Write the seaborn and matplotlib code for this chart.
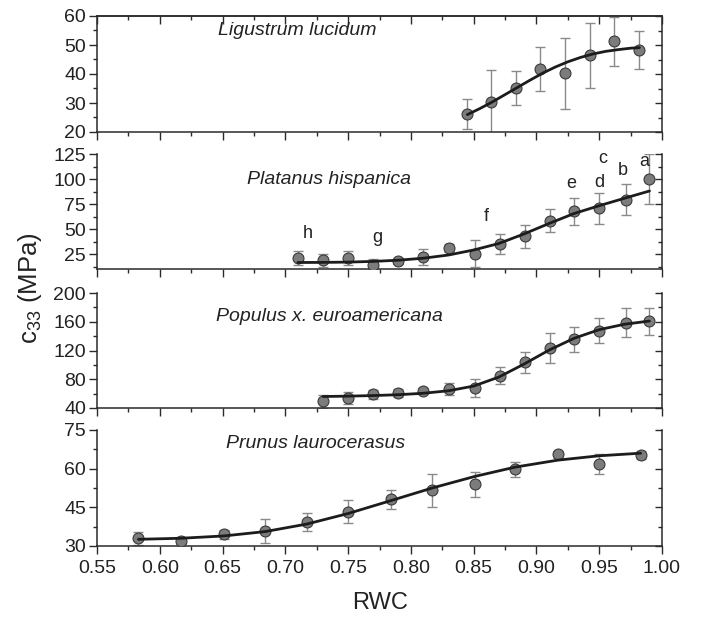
import numpy as np
import pandas as pd
import matplotlib
matplotlib.use("Agg")
import matplotlib.pyplot as plt
import seaborn as sns
from matplotlib.ticker import MultipleLocator, FormatStrFormatter

# ---------------- data ----------------
lig_x = [0.845, 0.864, 0.884, 0.903, 0.923, 0.943, 0.962, 0.982]
lig_y = [26.1, 30.3, 35.2, 41.7, 40.2, 46.5, 51.3, 48.2]
lig_err = [5.2, 11.0, 6.0, 7.7, 12.2, 11.2, 8.5, 6.5]
lig_fit_x = [0.845, 0.855, 0.865, 0.875, 0.885, 0.895, 0.905, 0.915, 0.925,
             0.935, 0.945, 0.955, 0.965, 0.975, 0.982]
lig_fit_y = [26.0, 28.1, 30.4, 32.9, 35.4, 37.9, 40.3, 42.4, 44.2,
             45.7, 46.9, 47.8, 48.4, 48.9, 49.1]

pla_x = [0.710, 0.730, 0.750, 0.770, 0.790, 0.810, 0.830, 0.851, 0.871,
         0.891, 0.911, 0.930, 0.950, 0.971, 0.990]
pla_y = [21.0, 18.7, 21.0, 14.3, 17.7, 22.0, 31.0, 25.3, 35.0,
         42.7, 58.3, 67.7, 70.7, 79.3, 100.3]
pla_err = [6.7, 6.7, 7.0, 5.5, 3.0, 7.7, 4.0, 13.7, 10.3,
           11.8, 11.5, 13.8, 15.3, 15.3, 25.0]
pla_fit_x = [0.71, 0.73, 0.75, 0.77, 0.79, 0.81, 0.83, 0.85, 0.87,
             0.89, 0.91, 0.93, 0.95, 0.97, 0.99]
pla_fit_y = [16.5, 16.6, 16.9, 17.6, 18.8, 20.8, 24.0, 29.0, 35.5,
             45.0, 55.5, 65.5, 73.3, 80.7, 88.0]
pla_letters = ["h", "g", "f", "e", "d", "c", "b", "a"]
pla_letter_x = [0.718, 0.773, 0.860, 0.928, 0.950, 0.953, 0.969, 0.986]
pla_letter_y = [46.0, 42.0, 63.0, 95.7, 97.0, 121.0, 108.7, 117.7]

pop_x = [0.730, 0.750, 0.770, 0.790, 0.810, 0.830, 0.851, 0.871, 0.891,
         0.911, 0.930, 0.950, 0.971, 0.990]
pop_y = [49.3, 53.9, 59.0, 60.9, 63.2, 66.4, 67.8, 85.0, 103.5,
         123.5, 135.5, 147.6, 158.7, 160.6]
pop_err = [9.0, 8.0, 6.0, 5.0, 4.0, 8.0, 12.5, 12.0, 15.0,
           21.0, 17.0, 17.0, 20.0, 19.0]
pop_fit_x = [0.73, 0.75, 0.77, 0.79, 0.81, 0.83, 0.85, 0.87, 0.89,
             0.91, 0.93, 0.95, 0.97, 0.99]
pop_fit_y = [56.0, 56.5, 57.3, 58.5, 60.5, 64.0, 70.5, 83.0, 101.0,
             120.5, 137.0, 149.0, 156.5, 161.0]

pru_x = [0.583, 0.617, 0.651, 0.684, 0.717, 0.750, 0.784, 0.817, 0.851,
         0.883, 0.917, 0.950, 0.983]
pru_y = [33.0, 32.1, 34.6, 35.9, 39.4, 43.3, 48.1, 51.6, 53.9,
         59.7, 65.5, 61.9, 65.4]
pru_err = [2.6, 1.5, 1.8, 4.6, 3.4, 4.5, 3.7, 6.3, 4.7, 3.0, 1.2, 3.9, 1.5]
pru_fit_x = [0.583, 0.617, 0.651, 0.684, 0.717, 0.750, 0.784, 0.817, 0.851,
             0.883, 0.917, 0.950, 0.983]
pru_fit_y = [32.6, 33.0, 33.9, 35.6, 38.5, 42.6, 47.6, 52.5, 57.0,
             60.6, 63.3, 65.0, 66.0]

species = ["Ligustrum lucidum", "Platanus hispanica",
           "Populus x. euroamericana", "Prunus laurocerasus"]

# ---------------- style ----------------
sns.set_theme(style="ticks")
plt.rcParams['font.family'] = ['Liberation Sans', 'DejaVu Sans']
plt.rcParams['mathtext.fontset'] = 'custom'
plt.rcParams['mathtext.rm'] = 'Liberation Sans'
plt.rcParams['mathtext.it'] = 'Liberation Sans:italic'

TXT = '#222222'
SP = '#2a2a2a'

fig = plt.figure(figsize=(7.02, 6.17), dpi=100)
W, H = 702.0, 617.0
left_px, right_px = 97, 662
panel_px = [(16, 132), (154, 269), (293, 408), (430, 546)]

panels = [
    dict(x=lig_x, y=lig_y, e=lig_err, fx=lig_fit_x, fy=lig_fit_y,
         ylim=(20, 60), maj=10, mnr=5, tx=0.2136, ty=0.873),
    dict(x=pla_x, y=pla_y, e=pla_err, fx=pla_fit_x, fy=pla_fit_y,
         ylim=(10, 125), maj=25, mnr=12.5, tx=0.265, ty=0.774),
    dict(x=pop_x, y=pop_y, e=pop_err, fx=pop_fit_x, fy=pop_fit_y,
         ylim=(40, 200), maj=40, mnr=20, tx=0.211, ty=0.794),
    dict(x=pru_x, y=pru_y, e=pru_err, fx=pru_fit_x, fy=pru_fit_y,
         ylim=(30, 75), maj=15, mnr=7.5, tx=0.229, ty=0.885),
]

for i, (p, (t, b)) in enumerate(zip(panels, panel_px)):
    ax = fig.add_axes([left_px / W, 1 - b / H, (right_px - left_px) / W, (b - t) / H])
    df = pd.DataFrame({"RWC": p["x"], "c33": p["y"], "err": p["e"]})
    fit = pd.DataFrame({"RWC": p["fx"], "c33": p["fy"]})

    ax.errorbar(df["RWC"], df["c33"], yerr=df["err"], fmt='none',
                ecolor='#8a8a8a', elinewidth=1.0, capsize=3.4, capthick=1.0, zorder=2)
    sns.scatterplot(data=df, x="RWC", y="c33", ax=ax, s=62, color='#7c7c7c',
                    edgecolor='#3a3a3a', linewidth=0.8, zorder=3, legend=False)
    sns.lineplot(data=fit, x="RWC", y="c33", ax=ax, color='#1c1c1c', lw=2.0,
                 zorder=4, legend=False)

    ax.set_xlim(0.55, 1.00)
    ax.set_ylim(*p["ylim"])
    ax.set_xlabel("")
    ax.set_ylabel("")
    ax.xaxis.set_major_locator(MultipleLocator(0.05))
    ax.xaxis.set_minor_locator(MultipleLocator(0.025))
    ax.yaxis.set_major_locator(MultipleLocator(p["maj"]))
    ax.yaxis.set_minor_locator(MultipleLocator(p["mnr"]))
    ax.yaxis.set_major_formatter(FormatStrFormatter('%d'))
    ax.xaxis.set_major_formatter(FormatStrFormatter('%.2f'))

    for s in ["left", "bottom"]:
        ax.spines[s].set_color(SP)
        ax.spines[s].set_linewidth(1.1)
    ax.spines["right"].set_visible(False)
    ax.spines["top"].set_visible(i == 0)
    ax.spines["top"].set_color(SP)
    ax.spines["top"].set_linewidth(1.1)

    ax.tick_params(axis='both', which='major', direction='out', length=6,
                   width=1.0, color=SP, labelsize=14, labelcolor=TXT, pad=2)
    ax.tick_params(axis='both', which='minor', direction='out', length=3.2,
                   width=1.0, color=SP)
    ax.tick_params(axis='x', labelbottom=(i == 3), pad=4)

    # right spine with inward ticks
    sec = ax.secondary_yaxis('right')
    sec.yaxis.set_major_locator(MultipleLocator(p["maj"]))
    sec.yaxis.set_minor_locator(MultipleLocator(p["mnr"]))
    sec.tick_params(axis='y', which='major', direction='in', length=5, width=1.0,
                    color=SP, labelright=False)
    sec.tick_params(axis='y', which='minor', direction='in', length=3, width=1.0,
                    color=SP)
    sec.spines['right'].set_color(SP)
    sec.spines['right'].set_linewidth(1.1)

    if i == 0:
        top = ax.secondary_xaxis('top')
        top.xaxis.set_major_locator(MultipleLocator(0.05))
        top.xaxis.set_minor_locator(MultipleLocator(0.025))
        top.tick_params(axis='x', which='major', direction='in', length=6,
                        width=1.0, color=SP, labeltop=False)
        top.tick_params(axis='x', which='minor', direction='in', length=3.2,
                        width=1.0, color=SP)
        top.spines['top'].set_color(SP)
        top.spines['top'].set_linewidth(1.1)

    ax.text(p["tx"], p["ty"], species[i], transform=ax.transAxes, ha='left',
            va='center', fontsize=14, style='italic', color=TXT)

    if i == 1:
        for lab, lx, ly in zip(pla_letters, pla_letter_x, pla_letter_y):
            ax.text(lx, ly, lab, ha='center', va='center', fontsize=13, color=TXT)

fig.text(380 / W, 1 - 603 / H, "RWC", ha='center', va='center', fontsize=17, color=TXT)
fig.text(30 / W, 1 - 288 / H, r"$\mathregular{c_{33}}$ (MPa)", rotation=90,
         ha='center', va='center', fontsize=18.5, color=TXT)

fig.savefig("out.png", dpi=100)
